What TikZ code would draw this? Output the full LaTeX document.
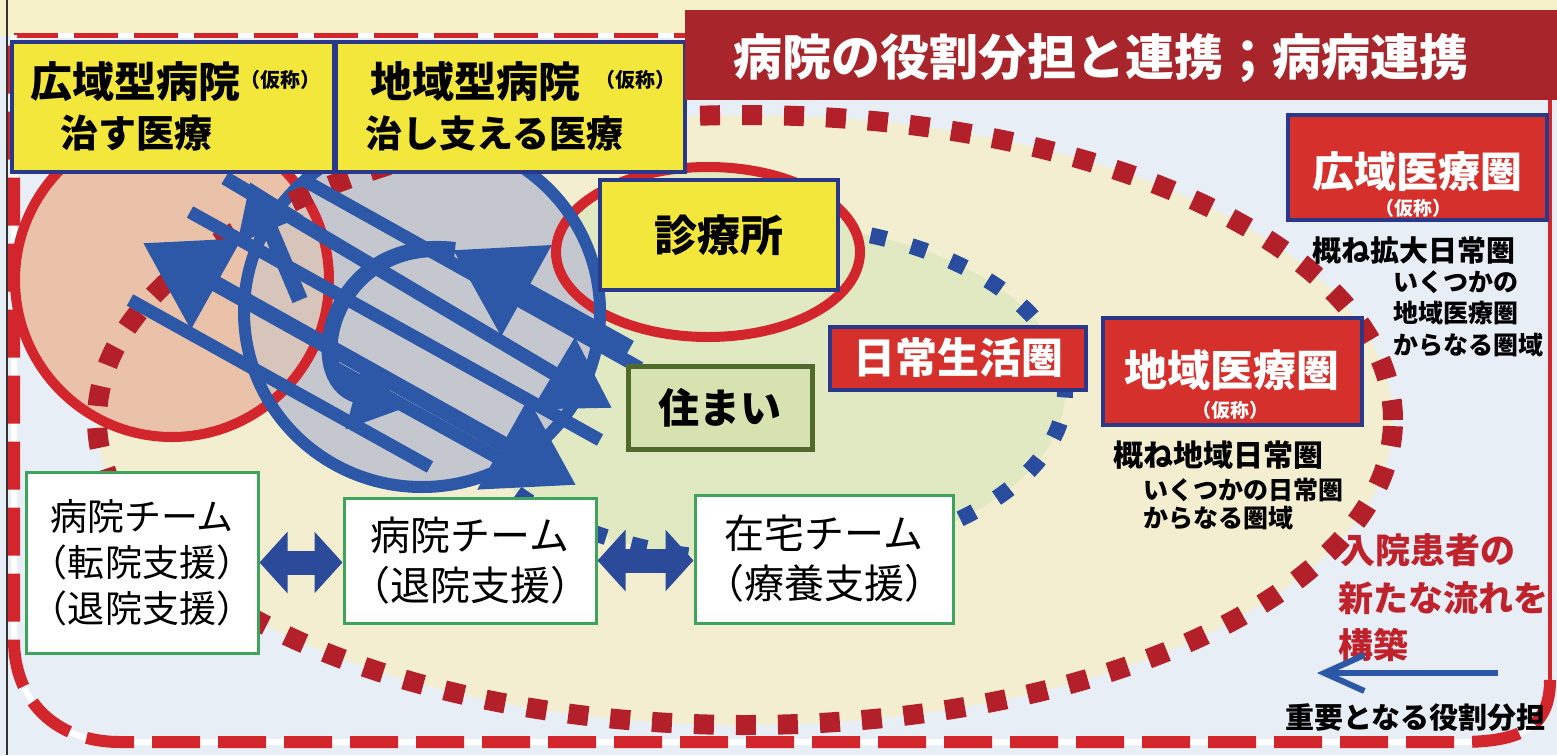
\documentclass[tikz,border=0pt]{standalone}
\usepackage{fontspec}
\setmainfont{Noto Sans CJK JP}
\usetikzlibrary{arrows.meta}
\definecolor{bgblue}{HTML}{E7EEF5}
\definecolor{creamtop}{HTML}{F7F1C9}
\definecolor{ovalcream}{HTML}{F4EED0}
\definecolor{innergreen}{HTML}{E1E9C3}
\definecolor{peach}{HTML}{EAC2A9}
\definecolor{greyc}{HTML}{C5C7CF}
\definecolor{redline}{HTML}{D3252C}
\definecolor{dotred}{HTML}{B3202A}
\definecolor{dotblue}{HTML}{2A4C9E}
\definecolor{arrowblue}{HTML}{2D58A8}
\definecolor{yel}{HTML}{F3E73C}
\definecolor{navy}{HTML}{2A3889}
\definecolor{boxred}{HTML}{D5302C}
\definecolor{banner}{HTML}{A8262B}
\definecolor{sumaifill}{HTML}{D6E2B0}
\definecolor{sumaiborder}{HTML}{4F6A2C}
\definecolor{teamgreen}{HTML}{3DA35D}
\definecolor{redtext}{HTML}{C0222C}
\definecolor{dblnavy}{HTML}{2B4A9A}
\newcommand{\myfs}[1]{\fontsize{#1}{#1}\selectfont}
\tikzset{
  ybox/.style={draw=navy, line width=2pt, fill=yel, inner sep=0pt},
  rbox/.style={draw=navy, line width=2pt, fill=boxred, inner sep=0pt},
  teambox/.style={draw=teamgreen, line width=1.5pt, fill=white, inner sep=0pt, align=center},
  bstripe/.style={draw=arrowblue, line width=6.5pt},
  barrow/.style={draw=arrowblue, line width=8pt, {Triangle[width=50pt,length=42pt]}-{Triangle[width=50pt,length=42pt]}},
  sarrow/.style={draw=arrowblue, line width=8pt, -{Triangle[width=50pt,length=42pt]}},
  marrow/.style={draw=arrowblue, line width=7pt, -{Triangle[width=40pt,length=34pt]}},
  carrow/.style={draw=arrowblue, line width=8pt, -{Triangle[width=34pt,length=26pt]}},
  dblarrow/.style={draw=dblnavy, line width=12pt, {Triangle[width=30pt,length=14pt]}-{Triangle[width=30pt,length=14pt]}},
  lbl/.style={inner sep=0pt, anchor=west},
}
\begin{document}
\begin{tikzpicture}[x=0.5pt,y=-0.5pt]
\useasboundingbox (0,0) rectangle (1557,755);
\fill[bgblue] (0,0) rectangle (1557,755);
\fill[creamtop] (0,0) rectangle (1557,36);
\draw[black!80, line width=1pt] (7,0) -- (7,755);

% outer dashed frame
\draw[white, line width=2.5pt] (14,35) -- (1550,35);
\draw[redline, line width=2.5pt, dash pattern=on 22pt off 8pt] (14,35) -- (1550,35);
\draw[redline, line width=2pt] (1550,35) -- (1550,680);
\draw[white, line width=3pt] (1550,680) .. controls (1550,728) and (1520,742) .. (1460,742) -- (120,742) .. controls (55,742) and (14,700) .. (14,640) -- (14,35);
\draw[redline, line width=6pt, dash pattern=on 24pt off 9pt] (1550,680) .. controls (1550,728) and (1520,742) .. (1460,742) -- (120,742) .. controls (55,742) and (14,700) .. (14,640) -- (14,35);

% large areas
\fill[ovalcream] (745,420) ellipse [x radius=324pt, y radius=152.5pt];
\fill[innergreen] (760,392) ellipse [x radius=152.5pt, y radius=84pt];
\draw[dotblue, line width=8pt, dash pattern=on 8pt off 13pt] (760,392) ellipse [x radius=152.5pt, y radius=84pt];
\fill[innergreen] (708,252) ellipse [x radius=76pt, y radius=42.5pt];

% hospital circles
\fill[peach] (172,280) circle [radius=78.5pt];
\fill[greyc] (422,312) ellipse [x radius=89pt, y radius=87.5pt];
\begin{scope}
  \clip (422,312) ellipse [x radius=89pt, y radius=87.5pt];
  \fill[peach, fill opacity=0.5] (172,280) circle [radius=78.5pt];
\end{scope}
\draw[redline, line width=5pt] (708,252) ellipse [x radius=76pt, y radius=42.5pt];
\draw[redline, line width=5pt] (172,280) circle [radius=78.5pt];
\draw[arrowblue, line width=6pt] (422,312) ellipse [x radius=89pt, y radius=87.5pt];

% dotted boundary of the wide area
\draw[dotred, line width=10pt, dash pattern=on 10pt off 11pt] (745,420) ellipse [x radius=324pt, y radius=152.5pt];

% blue arrow cluster
\coordinate (s1a) at (190,212); \coordinate (s1b) at (600,440);
\coordinate (s3a) at (300,178); \coordinate (s3b) at (640,368);
\coordinate (s4a) at (130,300); \coordinate (s4b) at (430,467);
\coordinate (s5a) at (330,365); \coordinate (s5b) at (520,470);
\draw[bstripe] (s1a) -- (s1b);
\draw[bstripe] (s3a) -- (s3b);
\draw[bstripe] (s4a) -- (s4b);
\draw[bstripe] (s5a) -- (s5b);
\coordinate (e1) at (225,178); \coordinate (e2) at (612,408);
\draw[marrow] (e1) -- (e2);
\coordinate (a1) at (143,243); \coordinate (a2) at (576,485);
\draw[barrow] (a1) -- (a2);
\coordinate (b1) at (630,348); \coordinate (b2) at (453,250);
\draw[sarrow] (b1) -- (b2);
\coordinate (d1) at (300,300); \coordinate (d2) at (250,182);
\draw[carrow] (d1) -- (d2);
\coordinate (c1) at (455,250); \coordinate (c2) at (405,408);
\draw[carrow] (c1) .. controls (330,235) and (300,380) .. (c2);

% yellow hospital boxes
\node[ybox, minimum width=161pt, minimum height=65pt] (hw) at (173,107) {};
\node[ybox, minimum width=174.5pt, minimum height=65pt] (hl) at (510.5,107) {};
\node[lbl, font=\bfseries\myfs{21pt}] (hwt) at (30,82) {広域型病院};
\node[lbl, font=\bfseries\myfs{10pt}] (hwk) at (240,80) {（仮称）};
\node[lbl, font=\bfseries\myfs{19pt}] (hws) at (60,133) {治す医療};
\node[lbl, font=\bfseries\myfs{21pt}] (hlt) at (370,82) {地域型病院};
\node[lbl, font=\bfseries\myfs{10pt}] (hlk) at (595,80) {（仮称）};
\node[lbl, font=\bfseries\myfs{18.5pt}] (hls) at (365,133) {治し支える医療};

% clinic, home, daily area
\node[ybox, minimum width=119pt, minimum height=55pt, font=\bfseries\myfs{21.5pt}] (clinic) at (719,235) {診療所};
\node[draw=sumaiborder, line width=2.5pt, fill=sumaifill, minimum width=92pt, minimum height=41.5pt, inner sep=0pt, font=\bfseries\myfs{20.5pt}] (home) at (720,408) {住まい};
\node[rbox, minimum width=128pt, minimum height=31.5pt, text=white, font=\bfseries\myfs{21pt}] (daily) at (958,358) {日常生活圏};

% regional boxes
\node[rbox, minimum width=129.5pt, minimum height=53.5pt] (region) at (1232.5,371.5) {};
\node[text=white, inner sep=0pt, font=\bfseries\myfs{21.5pt}] (regiont) at (1232,370) {地域医療圏};
\node[text=white, inner sep=0pt, font=\bfseries\myfs{9.5pt}] (regionk) at (1230,410) {（仮称）};
\node[lbl, font=\bfseries\myfs{15pt}] (rd1) at (1113,455) {概ね地域日常圏};
\node[lbl, font=\bfseries\myfs{12.5pt}] (rd2) at (1143,490) {いくつかの日常圏};
\node[lbl, font=\bfseries\myfs{12.5pt}] (rd3) at (1143,518) {からなる圏域};

\node[rbox, minimum width=129.5pt, minimum height=52.5pt] (wide) at (1417.5,167.5) {};
\node[text=white, inner sep=0pt, font=\bfseries\myfs{21pt}] (widet) at (1417,172) {広域医療圏};
\node[text=white, inner sep=0pt, font=\bfseries\myfs{9.5pt}] (widek) at (1413,208) {（仮称）};
\node[lbl, font=\bfseries\myfs{14.5pt}] (wd1) at (1312,250) {概ね拡大日常圏};
\node[lbl, font=\bfseries\myfs{12.5pt}] (wd2) at (1393,282) {いくつかの};
\node[lbl, font=\bfseries\myfs{12.5pt}] (wd3) at (1393,313) {地域医療圏};
\node[lbl, font=\bfseries\myfs{12.5pt}] (wd4) at (1393,345) {からなる圏域};

% team boxes
\node[teambox, minimum width=116pt, minimum height=90.5pt, font=\fontsize{18.5pt}{23pt}\selectfont] (t1) at (142,562.5) {病院チーム\\（転院支援）\\（退院支援）};
\node[teambox, minimum width=126pt, minimum height=62.5pt, font=\fontsize{20pt}{25pt}\selectfont] (t2) at (470,560.5) {病院チーム\\（退院支援）};
\node[teambox, minimum width=129pt, minimum height=64pt, font=\fontsize{20pt}{25pt}\selectfont] (t3) at (824,559) {在宅チーム\\（療養支援）};
\draw[dblarrow] (t1.east) -- (t1.east -| t2.west);
\draw[dblarrow] (t2.east) -- (t2.east -| t3.west);

% red message
\node[lbl, text=redtext, font=\bfseries\myfs{17.5pt}] (m1) at (1340,550) {入院患者の};
\node[lbl, text=redtext, font=\bfseries\myfs{17.5pt}] (m2) at (1338,598) {新たな流れを};
\node[lbl, text=redtext, font=\bfseries\myfs{17.5pt}] (m3) at (1338,645) {構築};

% legend arrow
\coordinate (lt) at (1498,673);
\coordinate (lh) at (1317,673);
\draw[arrowblue, line width=3pt, -{Straight Barb[length=20pt,width=18pt]}] (lt) -- (lh);
\node[lbl, font=\bfseries\myfs{14.5pt}] (legend) at (1285,718) {重要となる役割分担};

% title banner
\node[fill=banner, minimum width=436pt, minimum height=45pt, inner sep=0pt] (banner) at (1121,55) {};
\node[text=white, inner sep=0pt, font=\bfseries\myfs{24.5pt}] (title) at (1101,58) {病院の役割分担と連携；病病連携};
\end{tikzpicture}
\end{document}
